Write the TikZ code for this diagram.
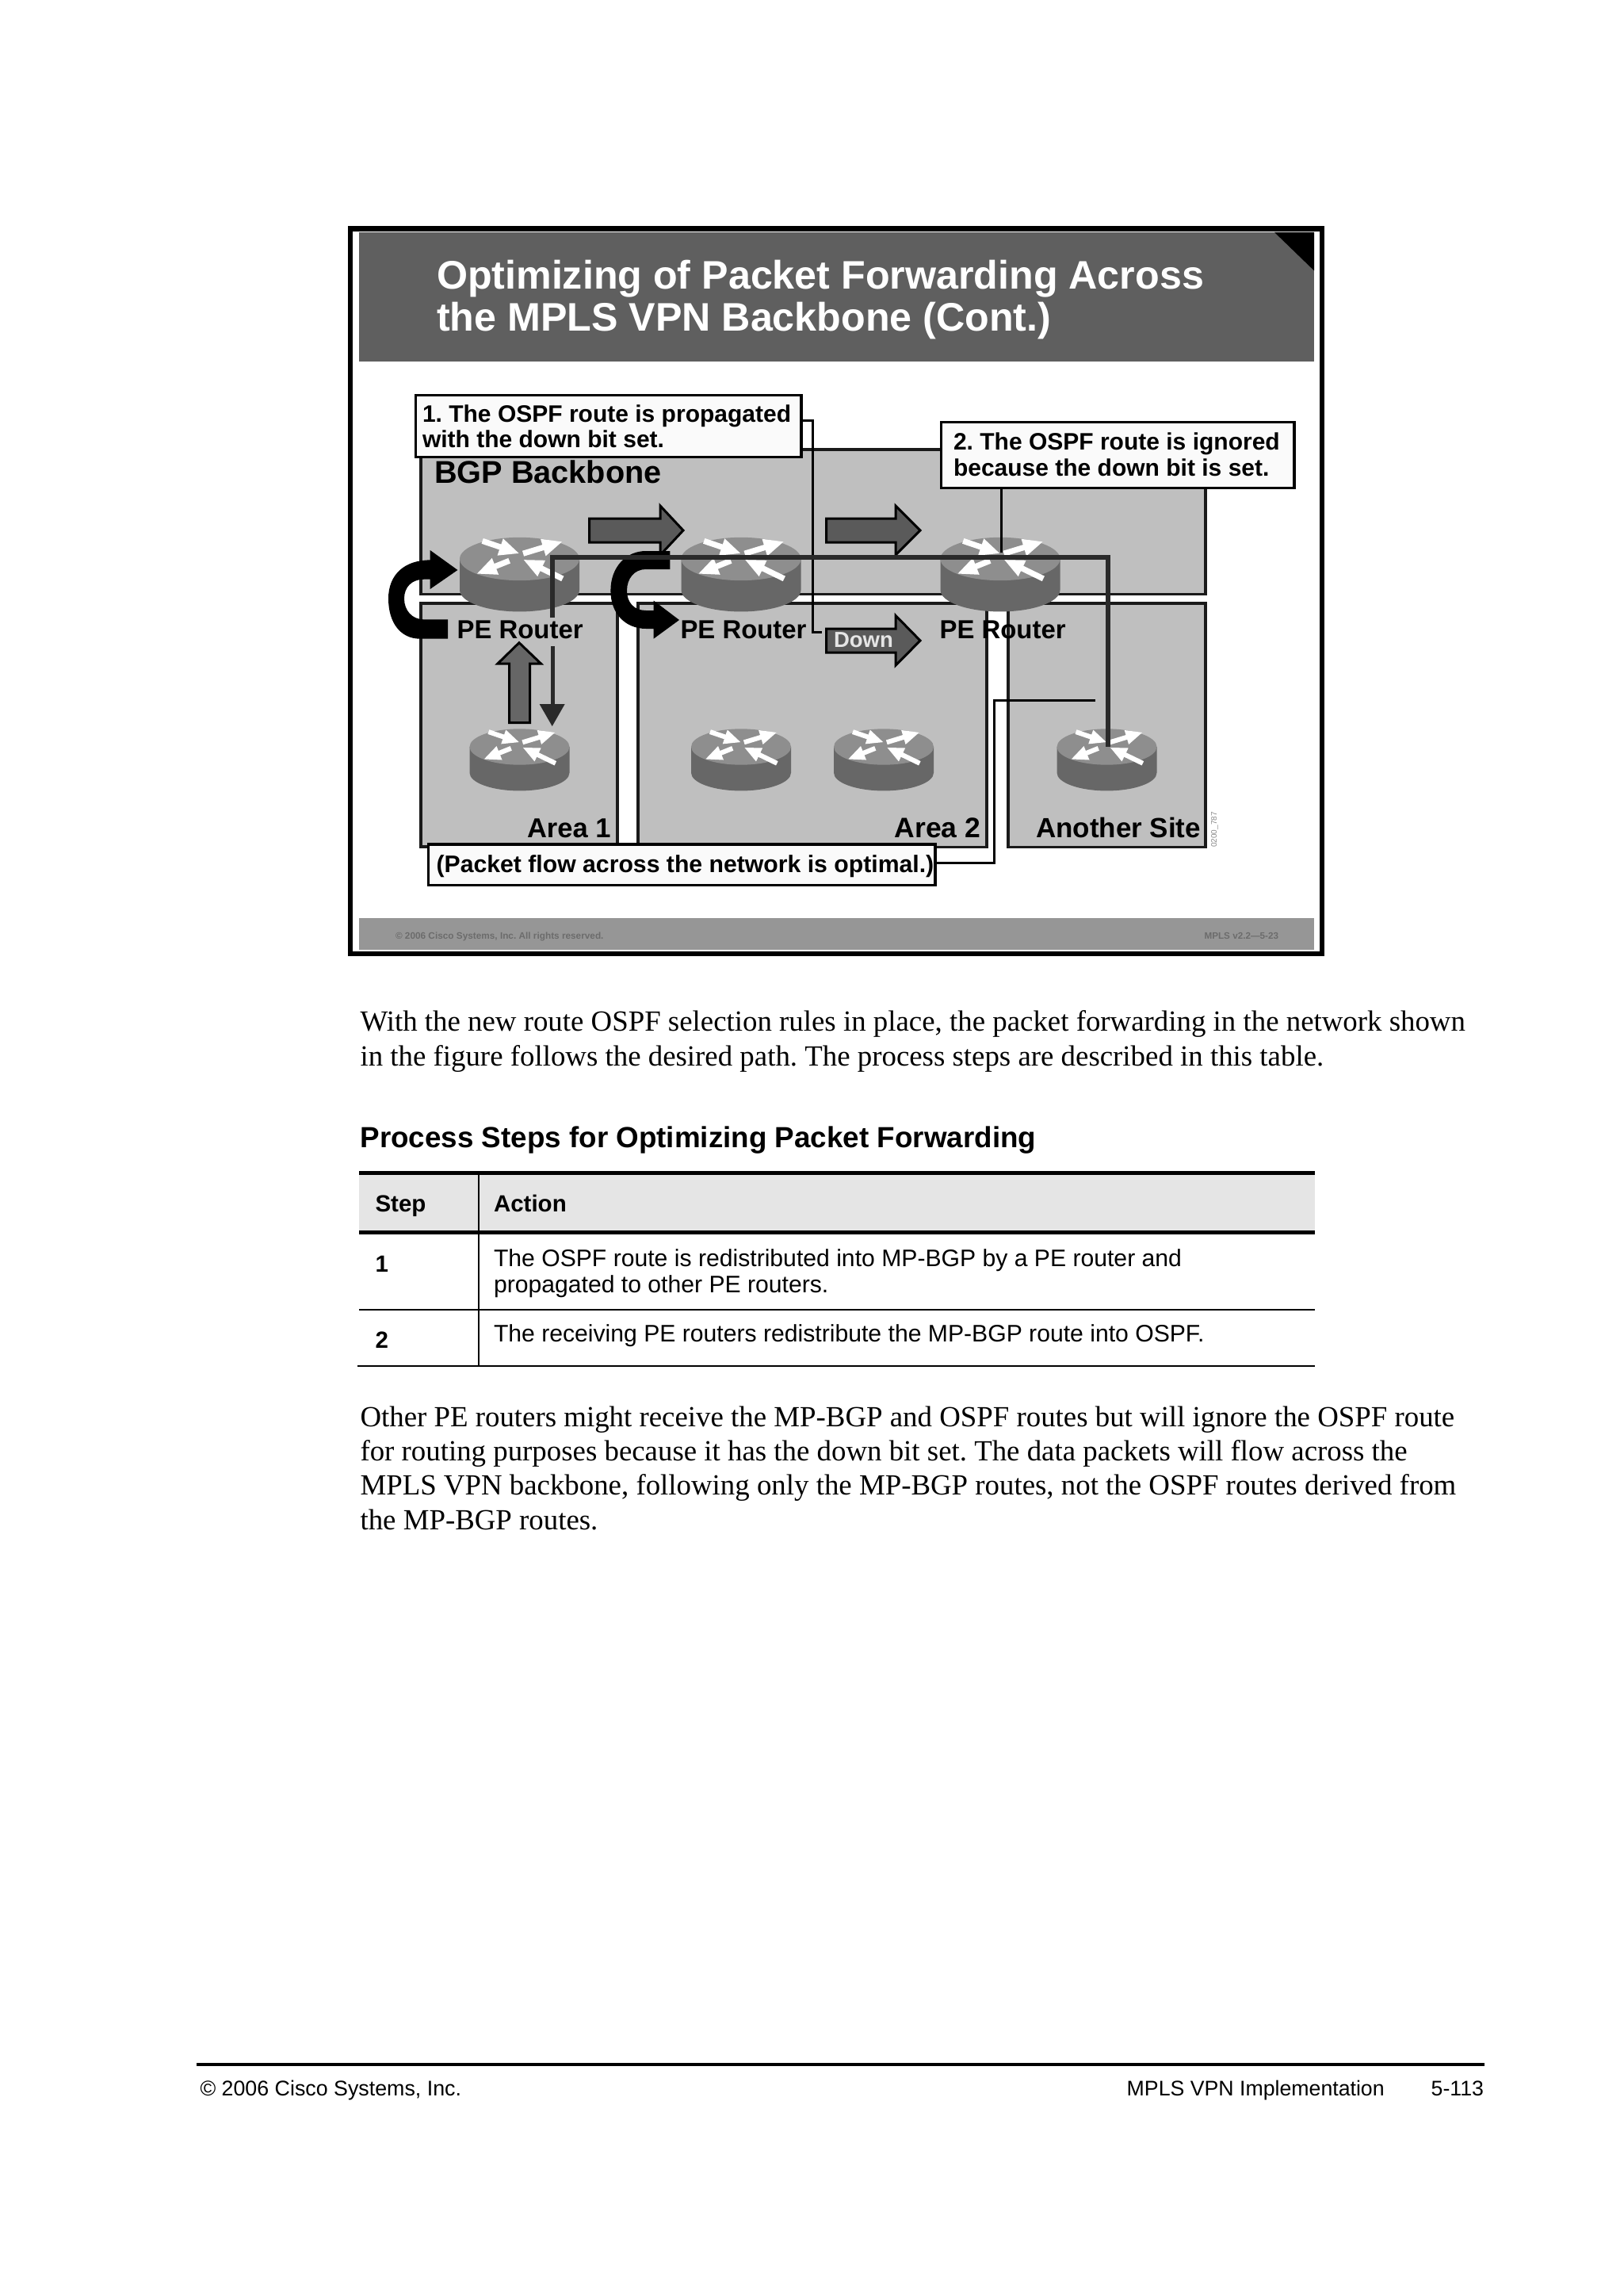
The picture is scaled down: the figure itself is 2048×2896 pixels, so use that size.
\documentclass[tikz,border=0pt]{standalone}
\usepackage{fontspec}
\setmainfont{Liberation Sans}
\newfontfamily\serifbody{Liberation Serif}
\usetikzlibrary{arrows.meta}
\frenchspacing
\newcommand\fpx[1]{\pgfmathsetmacro\tmpf{#1*0.3}\fontsize{\tmpf pt}{\tmpf pt}\selectfont}
\definecolor{banner}{HTML}{5F5F5F}
\definecolor{band}{HTML}{969696}
\definecolor{bandtxt}{HTML}{6C6C6C}
\definecolor{areafill}{HTML}{BFBFBF}
\definecolor{edge}{HTML}{1A1A1A}
\definecolor{flow}{HTML}{2A2A2A}
\definecolor{rtop}{HTML}{8E8E8E}
\definecolor{rside}{HTML}{676767}
\definecolor{bigarrow}{HTML}{5A5A5A}
\definecolor{upfill}{HTML}{666666}
\definecolor{headfill}{HTML}{E5E5E5}
\definecolor{coutfill}{HTML}{FAFAFA}
\definecolor{codegrey}{HTML}{8A8A8A}
\newcommand\routerpic[3]{%
  \begin{scope}[shift={(#1,#2)},x={#3*0.3pt},y={#3*-0.3pt}]
    \pgfmathsetlengthmacro\rlw{#3*0.3pt*0.095}
    \pgfmathsetlengthmacro\rhl{#3*0.3pt*0.34}
    \pgfmathsetlengthmacro\rhw{#3*0.3pt*0.27}
    \fill[rside] (-1,0) -- (-1,.52) arc[start angle=180,end angle=0,x radius=1,y radius=.36] -- (1,0) -- cycle;
    \fill[rtop] (0,0) ellipse [x radius=1,y radius=.36];
    \foreach \ax/\ay/\bx/\by in {-.62/-.30/0/-.09,.06/-.09/.72/-.29,-.17/.03/-.72/.25,.72/.33/.06/.01}
      \draw[white,line width=\rlw,-{Triangle[length=\rhl,width=\rhw]}] (\ax,\ay) -- (\bx,\by);
  \end{scope}}
\tikzset{
  tx/.style={inner sep=0pt,outer sep=0pt,anchor=base west,text=black},
  txe/.style={inner sep=0pt,outer sep=0pt,anchor=base east,text=black},
  areabox/.style={fill=areafill,draw=edge,line width=0.95pt},
  cout/.style={fill=coutfill,draw=black,line width=1pt,inner sep=0pt,outer sep=0pt},
  blockarrow/.style={fill=bigarrow,draw=black,line width=0.9pt,line join=miter},
  leader/.style={draw=black,line width=0.9pt},
  flowline/.style={draw=flow,line width=1.7pt},
  rule/.style={draw=black,line width=0.6pt},
  thickrule/.style={draw=black,line width=1.5pt}
}
\begin{document}
\begin{tikzpicture}[x=0.3pt,y=-0.3pt]
\useasboundingbox (0,0) rectangle (2048,2896);
\fill[white] (0,0) rectangle (2048,2896);
% slide frame
\draw[black,line width=2pt] (442,288.5) rectangle (1668,1203);
\fill[banner] (452.5,293) rectangle (1658,455.7);
\fill[black] (1608,293) -- (1658,293) -- (1658,341.4) -- cycle;
\fill[band] (452.5,1157.7) rectangle (1658,1197.7);
\node[tx] (title1) at (551,364.5) {\fpx{50.2}\bfseries\color{white}Optimizing of Packet Forwarding Across};
\node[tx] (title2) at (551,418) {\fpx{50.2}\bfseries\color{white}the MPLS VPN Backbone (Cont.)};
\node[tx] (copyband) at (499,1184) {\fpx{11.8}\bfseries\color{bandtxt}© 2006 Cisco Systems, Inc. All rights reserved.};
\node[tx] (verband) at (1519.5,1184) {\fpx{11.7}\bfseries\color{bandtxt}MPLS v2.2—5-23};
% areas
\draw[areabox] (531,567) rectangle (1521,749.3);
\draw[areabox] (531,761) rectangle (779,1068);
\draw[areabox] (805,761) rectangle (1245,1068.5);
\draw[areabox] (1272,761) rectangle (1521,1068.5);
\draw[edge,line width=1.2pt] (1245,761) -- (1245,1068.5);
% block arrows
\draw[blockarrow] (743.5,654) -- (833,654) -- (833,638) -- (862,669) -- (833,700) -- (833,684) -- (743.5,684) -- cycle;
\draw[blockarrow] (1042.5,654) -- (1130,654) -- (1130,638) -- (1161,669) -- (1130,700) -- (1130,684) -- (1042.5,684) -- cycle;
\draw[blockarrow] (1042.5,793) -- (1130,793) -- (1130,776.4) -- (1161,808) -- (1130,839.3) -- (1130,823) -- (1042.5,823) -- cycle;
\draw[blockarrow,fill=upfill] (642.5,911.7) -- (642.5,837) -- (628,837) -- (655,810.7) -- (682.4,837) -- (668.5,837) -- (668.5,911.7) -- cycle;
\node[tx] (downl) at (1052,816.7) {\fpx{27.5}\bfseries\color{headfill}Down};
% routers
\routerpic{655.5}{705}{75.5}
\routerpic{935}{705}{75.5}
\routerpic{1262}{705}{75.5}
\routerpic{655.5}{942}{63}
\routerpic{935}{942}{63}
\routerpic{1115}{942}{63}
\routerpic{1396.5}{942}{63}
% connector anchors
\coordinate (c1out) at (1011,530.7);
\coordinate (c1b) at (1025,530.7);
\coordinate (c1c) at (1025,797.9);
\coordinate (c1end) at (1037,797.9);
\coordinate (c2out) at (1263,615.7);
\coordinate (c2end) at (1263,696.8);
\coordinate (c3out) at (1180,1088);
\coordinate (c3b) at (1254.5,1088);
\coordinate (c3c) at (1254.5,883.3);
\coordinate (c3end) at (1381.6,883.3);
\coordinate (f1) at (697,779);
\coordinate (f2) at (697,703);
\coordinate (f3) at (1398,703);
\coordinate (f4) at (1398,942);
\coordinate (f5) at (697,815);
\coordinate (f6) at (697,892);
\draw[leader] (c1out) -- (c1b) -- (c1c) -- (c1end);
\draw[leader] (c2out) -- (c2end);
\draw[leader] (c3out) -- (c3b) -- (c3c) -- (c3end);
% curved black arrows
\fill[black] (565,805.7) -- (530,805.7) .. controls (505,805.7) and (490,785) .. (490,755) .. controls (490,725) and (510,706.4) .. (542.7,706.4) -- (542.7,694) -- (577.4,719) -- (542.7,743) -- (542.7,730.7) -- (535,730.7) .. controls (520,730.7) and (510,740) .. (510,755) .. controls (510,770) and (520,781.4) .. (535,781.4) -- (565,781.4) -- cycle;
\fill[black] (845.4,695) -- (815,695) .. controls (790,695) and (770.4,715) .. (770.4,745) .. controls (770.4,775) and (790,793) .. (815,793) -- (824.6,793) -- (824.6,805.7) -- (857,782) -- (824.6,757.5) -- (824.6,770) -- (815,770) .. controls (800,770) and (791,760) .. (791,745) .. controls (791,730) and (800,718) .. (815,718) -- (845.4,718) -- cycle;
% traffic path
\draw[flowline] (f1) -- (f2) -- (f3) -- (f4);
\draw[draw=flow,line width=1.5pt] (f5) -- (f6);
\fill[flow] (680.6,888) -- (712.7,888) -- (696.7,916) -- cycle;
% router labels and area labels
\node[tx] (pe1) at (576.6,805) {\fpx{32.9}\bfseries PE Router};
\node[tx] (pe2) at (858.5,805) {\fpx{32.9}\bfseries PE Router};
\node[tx] (pe3) at (1185.6,805) {\fpx{32.9}\bfseries PE Router};
\node[tx] (bgp) at (548,609) {\fpx{39.7}\bfseries BGP Backbone};
\node[tx] (a1) at (665,1056.7) {\fpx{34.5}\bfseries Area 1};
\node[tx] (a2) at (1128.8,1056.7) {\fpx{35.5}\bfseries Area 2};
\node[tx] (a3) at (1307,1056.7) {\fpx{35}\bfseries Another Site};
\node[inner sep=0pt,anchor=base,rotate=90,text=codegrey] (code) at (1535,1046.5) {\fpx{10}0200\_787};
% callouts
\draw[cout] (524.5,498.6) rectangle (1011,576.4);
\node[tx] (c1a) at (533,532.5) {\fpx{30}\bfseries 1. The OSPF route is propagated};
\node[tx] (c1d) at (533,564.6) {\fpx{30}\bfseries with the down bit set.};
\draw[cout] (1187.3,532.5) rectangle (1633,615.7);
\node[tx] (c2a) at (1203,568) {\fpx{30}\bfseries 2. The OSPF route is ignored};
\node[tx] (c2d) at (1203,600.4) {\fpx{30}\bfseries because the down bit is set.};
\draw[cout] (540.6,1065) rectangle (1180,1116.7);
\node[tx] (c3t) at (550.6,1100) {\fpx{30.2}\bfseries (Packet flow across the network is optimal.)};
% body text
\node[tx] (p1a) at (454.5,1300.7) {\serifbody\fpx{36.85}With the new route OSPF selection rules in place, the packet forwarding in the network shown};
\node[tx] (p1b) at (454.5,1344) {\serifbody\fpx{36.85}in the figure follows the desired path. The process steps are described in this table.};
\node[tx] (head) at (454.5,1447.3) {\fpx{36.8}\bfseries Process Steps for Optimizing Packet Forwarding};
% table
\fill[headfill] (453.4,1479) rectangle (1658.5,1554);
\draw[thickrule] (453.4,1479) -- (1658.5,1479);
\draw[thickrule] (453.4,1554) -- (1658.5,1554);
\draw[rule] (453.4,1651.7) -- (1658.5,1651.7);
\draw[rule] (451,1723.3) -- (1658.7,1723.3);
\draw[rule] (604.3,1479) -- (604.3,1723.3);
\node[tx] (th1) at (473.5,1528.6) {\fpx{29.5}\bfseries Step};
\node[tx] (th2) at (623,1528.6) {\fpx{29.5}\bfseries Action};
\node[tx] (n1) at (473.5,1604.6) {\fpx{29.5}\bfseries 1};
\node[tx] (n2) at (473.5,1700.3) {\fpx{29.5}\bfseries 2};
\node[tx] (r1a) at (623,1597) {\fpx{30.15}The OSPF route is redistributed into MP-BGP by a PE router and};
\node[tx] (r1b) at (623,1630.3) {\fpx{30.15}propagated to other PE routers.};
\node[tx] (r2a) at (623,1692.6) {\fpx{30.15}The receiving PE routers redistribute the MP-BGP route into OSPF.};
% second paragraph
\node[tx] (p2a) at (454.5,1799) {\serifbody\fpx{36.85}Other PE routers might receive the MP-BGP and OSPF routes but will ignore the OSPF route};
\node[tx] (p2b) at (454.5,1842.3) {\serifbody\fpx{36.85}for routing purposes because it has the down bit set. The data packets will flow across the};
\node[tx] (p2c) at (454.5,1885.7) {\serifbody\fpx{36.85}MPLS VPN backbone, following only the MP-BGP routes, not the OSPF routes derived from};
\node[tx] (p2d) at (454.5,1929) {\serifbody\fpx{36.85}the MP-BGP routes.};
% page footer
\draw[draw=black,line width=1.1pt] (248,2604) -- (1872.7,2604);
\node[tx] (fl) at (252.5,2643.5) {\fpx{26.8}© 2006 Cisco Systems, Inc.};
\node[tx] (fm) at (1421.7,2643.5) {\fpx{26.7}MPLS VPN Implementation};
\node[txe] (fr) at (1872,2643.5) {\fpx{26.7}5-113};
\end{tikzpicture}
\end{document}
